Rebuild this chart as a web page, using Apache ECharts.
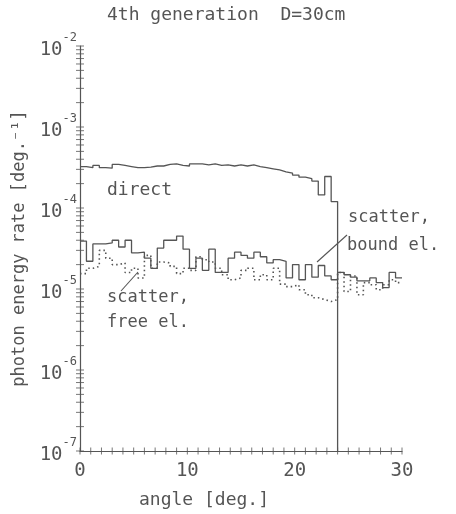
<!DOCTYPE html>
<html>
<head>
<meta charset="utf-8">
<script src="https://cdn.jsdelivr.net/npm/echarts@6/dist/echarts.min.js"></script>
<style>
  html, body { margin: 0; padding: 0; background: #fff; }
  #chart { width: 456px; height: 514px; }
</style>
</head>
<body>
<div id="chart"></div>
<script>
// bin edges of the angular histogram [deg.]
var binEdges = [0, 0.6, 1.2, 1.8, 2.4, 3, 3.6, 4.2, 4.8, 5.4,
  6, 6.6, 7.2, 7.8, 8.4, 9, 9.6, 10.2, 10.8, 11.4,
  12, 12.6, 13.2, 13.8, 14.4, 15, 15.6, 16.2, 16.8, 17.4,
  18, 18.6, 19.2, 19.8, 20.4, 21, 21.6, 22.2, 22.8, 23.4,
  24, 24.6, 25.2, 25.8, 26.4, 27, 27.6, 28.2, 28.8, 29.4, 30];

// photon energy rate per bin [deg^-1]
var directRate = [3.25e-4, 3.15e-4, 3.35e-4, 3.15e-4, 3.1e-4, 3.45e-4, 3.35e-4, 3.25e-4, 3.15e-4, 3.15e-4,
  3.2e-4, 3.3e-4, 3.3e-4, 3.45e-4, 3.5e-4, 3.35e-4, 3.3e-4, 3.5e-4, 3.5e-4, 3.4e-4,
  3.5e-4, 3.35e-4, 3.4e-4, 3.3e-4, 3.4e-4, 3.3e-4, 3.4e-4, 3.25e-4, 3.15e-4, 3.05e-4,
  2.95e-4, 2.8e-4, 2.7e-4, 2.55e-4, 2.4e-4, 2.3e-4, 2.15e-4, 1.45e-4, 2.45e-4, 1.2e-4];

var boundRate = [3.9e-5, 2.2e-5, 3.6e-5, 3.6e-5, 3.7e-5, 4.0e-5, 3.3e-5, 4.0e-5, 2.8e-5, 2.85e-5,
  2.4e-5, 1.8e-5, 3.2e-5, 4.0e-5, 4.0e-5, 4.5e-5, 3.1e-5, 1.8e-5, 2.4e-5, 1.7e-5,
  3.1e-5, 1.6e-5, 1.6e-5, 2.4e-5, 2.85e-5, 2.6e-5, 2.4e-5, 2.85e-5, 2.5e-5, 2.1e-5,
  2.3e-5, 2.2e-5, 1.37e-5, 2.0e-5, 1.3e-5, 2.0e-5, 1.4e-5, 1.95e-5, 1.45e-5, 1.3e-5,
  1.6e-5, 1.5e-5, 1.4e-5, 1.26e-5, 1.26e-5, 1.37e-5, 1.2e-5, 1.04e-5, 1.6e-5, 1.37e-5];

var freeRate = [1.55e-5, 1.8e-5, 1.9e-5, 3.0e-5, 2.4e-5, 2.0e-5, 2.1e-5, 1.6e-5, 1.8e-5, 1.37e-5,
  2.6e-5, 1.8e-5, 2.15e-5, 2.1e-5, 1.9e-5, 1.55e-5, 1.8e-5, 1.7e-5, 2.5e-5, 2.3e-5,
  2.15e-5, 1.8e-5, 1.5e-5, 1.3e-5, 1.37e-5, 1.7e-5, 1.8e-5, 1.3e-5, 1.5e-5, 1.3e-5,
  1.8e-5, 1.15e-5, 1.07e-5, 1.13e-5, 9.8e-6, 8.5e-6, 7.8e-6, 7.4e-6, 7.0e-6, 7.4e-6,
  1.6e-5, 9.3e-6, 1.45e-5, 8.5e-6, 1.2e-5, 1.13e-5, 9.8e-6, 1.13e-5, 1.3e-5, 1.2e-5];

var yMin = 1e-7, yMax = 1e-2;
var decades = [-7, -6, -5, -4, -3];
var mantissas = [1, 2, 3, 4, 5, 6, 7, 8, 9];
var xTickStep = 1;

var INK = '#555';
var MONO = '"DejaVu Sans Mono", "Liberation Mono", monospace';

// histogram outline: one point per bin start, plus the closing edge
function steps(values, closeTo) {
    var pts = values.map(function (v, i) { return [binEdges[i], v]; });
    pts.push([binEdges[values.length], closeTo === undefined ? values[values.length - 1] : closeTo]);
    return pts;
}

// tick marks crossing the axes
var yTicks = [];
decades.forEach(function (d) {
    mantissas.forEach(function (m) { yTicks.push([0, m * Math.pow(10, d)]); });
});
yTicks.push([0, yMax]);
var xTicks = [];
for (var t = 0; t <= 30; t += xTickStep) xTicks.push([t, yMin]);

var chart = echarts.init(document.getElementById('chart'), null, { renderer: 'canvas' });

chart.setOption({
    animation: false,
    backgroundColor: '#fff',
    grid: { left: 80, right: 54, top: 46, bottom: 62 },
    xAxis: {
        type: 'value',
        min: 0, max: 30, interval: 10,
        name: 'angle [deg.]',
        nameLocation: 'middle',
        nameGap: 40,
        nameTextStyle: { fontFamily: MONO, fontSize: 18, color: INK, padding: [0, 74, 0, 0] },
        axisLine: { lineStyle: { color: INK, width: 1.2 } },
        axisTick: { show: false },
        splitLine: { show: false },
        axisLabel: { fontFamily: MONO, fontSize: 19, color: INK, margin: 11 }
    },
    yAxis: {
        type: 'log',
        logBase: 10,
        min: yMin, max: yMax,
        name: 'photon energy rate [deg.⁻¹]',
        nameLocation: 'middle',
        nameGap: 52,
        nameTextStyle: { fontFamily: MONO, fontSize: 17, color: INK },
        axisLine: { show: true, lineStyle: { color: INK, width: 1.2 } },
        axisTick: { show: false },
        splitLine: { show: false },
        axisLabel: {
            margin: 3,
            formatter: function (v) {
                var e = Math.round(Math.log(v) / Math.LN10);
                return '{b|10}{e|' + e + '}';
            },
            rich: {
                b: { fontFamily: MONO, fontSize: 19, color: INK, lineHeight: 28, verticalAlign: 'bottom' },
                e: { fontFamily: MONO, fontSize: 12, color: INK, lineHeight: 12, verticalAlign: 'top' }
            }
        }
    },
    graphic: [
        { type: 'text', left: 107, top: 6, style: { text: '4th generation  D=30cm', font: '18px ' + MONO, fill: INK } },
        { type: 'text', left: 107, top: 181, style: { text: 'direct', font: '18px ' + MONO, fill: INK } },
        { type: 'text', left: 107, top: 289, style: { text: 'scatter,', font: '17px ' + MONO, fill: INK } },
        { type: 'text', left: 107, top: 314, style: { text: 'free el.', font: '17px ' + MONO, fill: INK } },
        { type: 'text', left: 348, top: 209, style: { text: 'scatter,', font: '17px ' + MONO, fill: INK } },
        { type: 'text', left: 347, top: 237, style: { text: 'bound el.', font: '17px ' + MONO, fill: INK } },
        { type: 'line', shape: { x1: 121, y1: 291, x2: 138, y2: 272 }, style: { stroke: INK, lineWidth: 1.1 } },
        { type: 'line', shape: { x1: 317, y1: 262, x2: 347, y2: 235 }, style: { stroke: INK, lineWidth: 1.1 } }
    ],
    series: [
        {
            name: 'direct', type: 'line', step: 'end', symbol: 'none',
            data: steps(directRate, yMin),
            lineStyle: { color: INK, width: 1.3 }
        },
        {
            name: 'scatter, bound el.', type: 'line', step: 'end', symbol: 'none',
            data: steps(boundRate),
            lineStyle: { color: INK, width: 1.3 }
        },
        {
            name: 'scatter, free el.', type: 'line', step: 'end', symbol: 'none',
            data: steps(freeRate),
            lineStyle: { color: INK, width: 1.6, type: [1.5, 3] }
        },
        {
            name: 'yticks', type: 'scatter', clip: false, silent: true,
            symbol: 'rect', symbolSize: [8, 1], data: yTicks,
            itemStyle: { color: INK }
        },
        {
            name: 'xticks', type: 'scatter', clip: false, silent: true,
            symbol: 'rect', symbolSize: [1, 7], data: xTicks,
            itemStyle: { color: INK }
        }
    ]
});
</script>
</body>
</html>
